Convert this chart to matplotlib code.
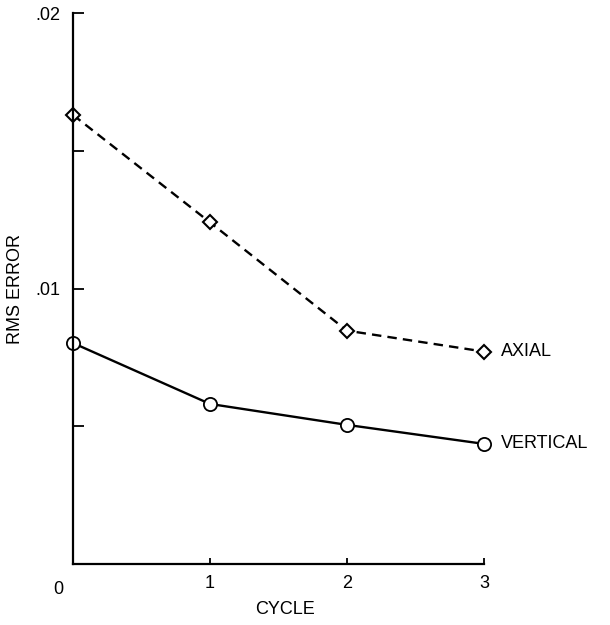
import numpy as np
import matplotlib.pyplot as plt

plt.rcParams['font.family'] = ['Liberation Sans', 'DejaVu Sans']

# RMS error per cycle
cycles = [0, 1, 2, 3]
axial = [0.0163, 0.0124, 0.00847, 0.00771]
vertical = [0.00802, 0.00581, 0.00505, 0.00436]

FS = 13

fig = plt.figure(figsize=(6.1, 6.25), dpi=100)
ax = fig.add_axes([0.1197, 0.0976, 0.6737, 0.8816])

ax.plot(cycles, axial, color='black', lw=1.7, ls=(0, (4, 2.6)),
        marker='D', ms=7.5, mfc='white', mec='black', mew=1.5, clip_on=False)
ax.plot(cycles, vertical, color='black', lw=1.7, ls='-',
        marker='o', ms=9.5, mfc='white', mec='black', mew=1.3, clip_on=False)

ax.annotate('AXIAL', (cycles[-1], axial[-1]), xytext=(12, 0),
            textcoords='offset points', va='center', ha='left', fontsize=FS)
ax.annotate('VERTICAL', (cycles[-1], vertical[-1]), xytext=(12, 0),
            textcoords='offset points', va='center', ha='left', fontsize=FS)

ax.set_xlim(0, 3)
ax.set_ylim(0, 0.02)
ax.spines['top'].set_visible(False)
ax.spines['right'].set_visible(False)
for s in ('left', 'bottom'):
    ax.spines[s].set_linewidth(1.6)

ax.set_yticks([0.01, 0.02])
ax.set_yticklabels(['.01', '.02'], fontsize=FS)
ax.set_yticks([0.005, 0.015], minor=True)
ax.tick_params(axis='y', which='both', direction='in', length=8, width=1.3, pad=9)

ax.set_xticks([1, 2, 3])
ax.set_xticklabels(['1', '2', '3'], fontsize=FS)
ax.tick_params(axis='x', direction='in', length=4, width=1.3, pad=8)
ax.text(-0.11, -0.0006, '0', ha='center', va='top', fontsize=FS)

ax.set_xlabel('CYCLE', fontsize=FS, va='center')
ax.xaxis.set_label_coords(0.516, -0.083)
ax.set_ylabel('RMS ERROR', fontsize=FS, va='center')
ax.yaxis.set_label_coords(-0.141, 0.5)

fig.savefig('out.png', dpi=100)
